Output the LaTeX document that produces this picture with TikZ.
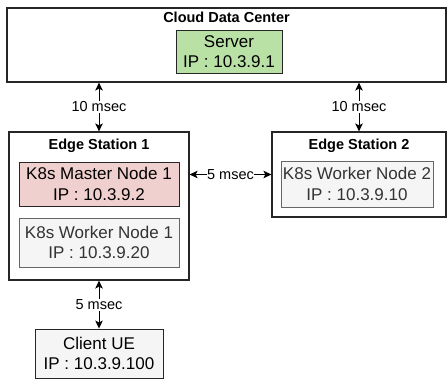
\documentclass[tikz,border=0pt]{standalone}
\usepackage{fontspec}
\setmainfont{Liberation Sans}
\usetikzlibrary{arrows.meta,positioning}

\definecolor{servergreen}{HTML}{B9E0A5}
\definecolor{masterred}{HTML}{F0D0CE}
\definecolor{workergrey}{HTML}{F5F5F5}
\definecolor{workerline}{HTML}{666666}
\definecolor{workertext}{HTML}{333333}

\begin{document}
\begin{tikzpicture}[
  x=1pt, y=-1pt,
  station/.style={rectangle, draw=black!85, line width=1.2pt, inner sep=0pt},
  host/.style={rectangle, draw=black!85, line width=0.9pt, inner sep=0pt, align=center, font=\fontsize{17}{20.5}\selectfont},
  worker/.style={host, draw=workerline, fill=workergrey, text=workertext},
  title/.style={font=\bfseries\fontsize{14.5}{16}\selectfont, inner sep=0pt},
  link/.style={{Stealth[length=8pt,width=7.5pt,inset=2pt]}-{Stealth[length=8pt,width=7.5pt,inset=2pt]}, line width=1pt},
  delay/.style={fill=white, inner sep=1pt, font=\fontsize{14.5}{16}\selectfont}
]
\useasboundingbox (0,0) rectangle (447,379);

% cloud side
\node[station, minimum width=439pt, minimum height=74pt] (cloud) at (226.5,45) {};
\node[title, below=4pt of cloud.north] (cloudt) {Cloud Data Center};
\node[host, fill=servergreen, minimum width=106pt, minimum height=43pt] (server) at (229,51.5) {Server\\IP : 10.3.9.1};

% edge stations
\node[station, minimum width=180pt, minimum height=148pt] (edge1) at (99,206) {};
\node[title, below=7pt of edge1.north] (edge1t) {Edge Station 1};
\node[host, fill=masterred, minimum width=160pt, minimum height=44pt] (master1) at (99,184) {K8s Master Node 1\\IP : 10.3.9.2};
\node[worker, minimum width=160pt, minimum height=49pt] (worker1) at (99,242.5) {K8s Worker Node 1\\IP : 10.3.9.20};

\node[station, minimum width=174pt, minimum height=85pt] (edge2) at (359,174.5) {};
\node[title, below=7pt of edge2.north] (edge2t) {Edge Station 2};
\node[worker, minimum width=152pt, minimum height=46pt] (worker2) at (357,184) {K8s Worker Node 2\\IP : 10.3.9.10};

% client
\node[host, fill=workergrey, minimum width=128pt, minimum height=49pt] (client) at (99,353.5) {Client UE\\IP : 10.3.9.100};

% links
\draw[link] (cloud.south -| edge1) -- node[delay] {10 msec} (edge1.north);
\draw[link] (cloud.south -| edge2) -- node[delay] {10 msec} (edge2.north);
\draw[link] (edge1.east |- edge2.west) -- node[delay, inner sep=0.5pt] {5 msec} (edge2.west);
\draw[link] (edge1.south) -- node[delay] {5 msec} (client.north);
\end{tikzpicture}
\end{document}
